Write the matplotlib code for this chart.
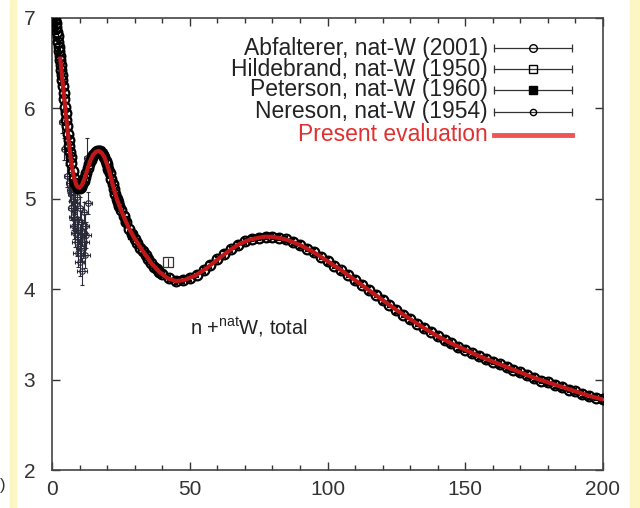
import matplotlib.pyplot as plt
from matplotlib.patches import Rectangle
from matplotlib.lines import Line2D

plt.rcParams['font.family'] = ['Liberation Sans', 'DejaVu Sans']
plt.rcParams['mathtext.fontset'] = 'custom'
plt.rcParams['mathtext.rm'] = 'Liberation Sans'

# --- Present evaluation (E in MeV, sigma in b) ---
eval_e = [3, 4, 5, 6, 7, 8, 9, 10, 11, 12, 13, 14, 15, 16, 17, 18, 19, 20, 21, 22,
          23.5, 25, 26.5, 28, 30, 33, 36, 39, 42, 45, 48, 52, 56, 61, 65, 68, 72, 77,
          80, 85, 90, 95, 100, 105, 110, 115, 120, 125, 130, 135, 140, 145, 150, 155,
          160, 165, 170, 175, 180, 185, 190, 195, 200]
eval_s = [6.55, 6.25, 5.95, 5.65, 5.40, 5.23, 5.14, 5.12, 5.16, 5.24, 5.34, 5.43, 5.49,
          5.52, 5.53, 5.51, 5.46, 5.38, 5.28, 5.16, 5.00, 4.88, 4.77, 4.67, 4.56, 4.42,
          4.29, 4.19, 4.12, 4.09, 4.10, 4.15, 4.23, 4.35, 4.44, 4.50, 4.55, 4.58, 4.58,
          4.55, 4.49, 4.41, 4.31, 4.21, 4.10, 3.99, 3.88, 3.77, 3.67, 3.57, 3.48, 3.40,
          3.33, 3.26, 3.20, 3.14, 3.08, 3.02, 2.97, 2.92, 2.87, 2.82, 2.78]

# --- Abfalterer, nat-W (2001) ---
abf_e = [1.0, 1.2, 1.4, 1.6, 1.8, 2.0, 2.2, 2.4, 2.6, 2.8, 3.0, 3.2, 3.4, 3.6, 3.8,
         4.0, 4.25, 4.5, 4.75, 5.0, 5.25, 5.5, 5.75, 6.0, 6.25, 6.5, 6.75, 7.0, 7.5,
         8.0, 8.5, 9.0, 9.5, 10.0, 10.5, 11.0, 11.5, 12.0, 12.5, 13.0, 13.5, 14.0,
         14.5, 15, 15.5, 16, 16.5, 17, 17.5, 18, 18.5, 19, 19.5, 20, 20.5, 21, 21.5,
         22, 22.5, 23, 23.5, 24, 24.5, 25, 26, 27, 28, 29, 30, 31, 32, 33, 34, 35, 36,
         37, 38, 39, 40, 42.5, 45, 47.5, 50, 52.5,
         55, 57.5, 60, 62.5, 65, 67.5, 70, 72.5, 75, 77.5, 80, 82.5, 85, 87.5, 90, 92.5,
         95, 97.5, 100, 102.5, 105, 107.5, 110, 112.5, 115, 117.5, 120, 122.5, 125,
         127.5, 130, 132.5, 135, 137.5, 140, 142.5, 145, 147.5, 150, 152.5, 155, 157.5,
         160, 162.5, 165, 167.5, 170, 172.5, 175, 177.5, 180, 182.5, 185, 187.5, 190,
         192.5, 195, 197.5, 200]
abf_s = [7.02, 6.98, 6.94, 6.90, 6.85, 6.80, 6.74, 6.68, 6.63, 6.58, 6.53, 6.48, 6.42,
         6.37, 6.31, 6.25, 6.17, 6.10, 6.02, 5.95, 5.87, 5.80, 5.72, 5.65, 5.58, 5.52,
         5.46, 5.40, 5.31, 5.23, 5.18, 5.14, 5.12, 5.12, 5.13, 5.16, 5.20, 5.24, 5.29,
         5.34, 5.39, 5.43, 5.46, 5.49, 5.51, 5.52, 5.53, 5.53, 5.53, 5.51, 5.49, 5.46,
         5.42, 5.38, 5.33, 5.28, 5.22, 5.16, 5.11, 5.05, 5.00, 4.96, 4.92, 4.88, 4.81,
         4.74, 4.67, 4.61, 4.56, 4.51, 4.46, 4.42, 4.38, 4.33, 4.29, 4.25, 4.22, 4.19,
         4.17, 4.12, 4.09, 4.10, 4.12, 4.16, 4.21, 4.27, 4.33, 4.39, 4.44, 4.49, 4.53,
         4.56, 4.57, 4.58, 4.58, 4.57, 4.55, 4.52, 4.49, 4.45, 4.41, 4.36, 4.31, 4.26,
         4.21, 4.16, 4.10, 4.05, 3.99, 3.94, 3.88, 3.83, 3.77, 3.72, 3.67, 3.62, 3.57,
         3.53, 3.48, 3.44, 3.40, 3.36, 3.33, 3.29, 3.26, 3.23, 3.20, 3.17, 3.14, 3.11,
         3.08, 3.05, 3.02, 2.99, 2.97, 2.94, 2.92, 2.89, 2.87, 2.84, 2.82, 2.80, 2.78]

# --- Hildebrand, nat-W (1950) ---
hil_e = [42]
hil_s = [4.30]
hil_ds = [0.05]

# --- Peterson, nat-W (1960) ---
pet_e = [17.5, 20.5, 23.5, 26.5, 29.0]
pet_s = [5.53, 5.33, 5.00, 4.77, 4.60]

# --- Nereson, nat-W (1954) ---
ner_e = [3.5, 4.5, 5.5, 6.0, 6.5, 7.0, 7.0, 7.5, 7.5, 8.0, 8.0, 8.5, 8.5, 9.0, 9.0, 9.0,
         9.5, 9.5, 10.0, 10.0, 10.0, 10.5, 10.5, 11.0, 11.0, 11.5, 11.5, 12.0, 12.0,
         12.5, 13.0, 12.6]
ner_s = [5.85, 5.55, 5.25, 5.18, 5.10, 5.05, 4.90, 4.98, 4.80, 4.88, 4.70, 4.95, 4.62,
         5.02, 4.78, 4.52, 4.66, 4.40, 4.90, 4.58, 4.30, 4.74, 4.46, 4.62, 4.20, 4.85,
         4.52, 4.70, 4.38, 4.60, 4.95, 5.45]
ner_ds = [0.12, 0.12, 0.12, 0.12, 0.12, 0.12, 0.14, 0.12, 0.14, 0.12, 0.14, 0.12, 0.15,
          0.12, 0.14, 0.15, 0.14, 0.15, 0.12, 0.14, 0.15, 0.13, 0.15, 0.14, 0.15, 0.12,
          0.15, 0.13, 0.15, 0.14, 0.12, 0.22]
ner_de = [0.8, 0.9, 1.0, 1.0, 1.1, 1.1, 1.3, 1.2, 1.4, 1.2, 1.5, 1.3, 1.5, 1.3, 1.6, 1.6,
          1.4, 1.7, 1.4, 1.6, 1.7, 1.5, 1.7, 1.6, 1.8, 1.5, 1.8, 1.6, 1.8, 1.6, 1.4, 1.0]

fig = plt.figure(figsize=(6.4, 5.08), dpi=100)
fig.patches.append(Rectangle((10 / 640, 0), 6 / 640, 1, transform=fig.transFigure,
                             color='#fcf7c2', zorder=0))
fig.patches.append(Rectangle((630 / 640, 0), 10 / 640, 1, transform=fig.transFigure,
                             color='#fcf7c2', zorder=0))
fig.text(0.0, 0.035, ')', fontsize=12, color='#333333', ha='left')

ax = fig.add_axes([52 / 640, 38 / 508, 551 / 640, 452 / 508])

ax.errorbar(ner_e, ner_s, yerr=ner_ds, xerr=ner_de, fmt='o', ms=4, mfc='none',
            mec='#2a2a38', color='#2a2a38', elinewidth=0.8, capsize=1.5, mew=0.8,
            zorder=2)
ax.errorbar(abf_e, abf_s, yerr=0.03, fmt='o', ms=7, mfc='none', mec='black',
            color='black', elinewidth=0.8, capsize=1.5, mew=1.6, zorder=3)
ax.errorbar(pet_e, pet_s, fmt='s', ms=5.5, color='black', zorder=3)
ax.errorbar(hil_e, hil_s, yerr=hil_ds, fmt='s', ms=6.5, mfc='none', mec='#333333',
            color='#333333', mew=0.9, elinewidth=0.8, zorder=3)
ax.plot(eval_e, eval_s, color='#c01818', lw=3, zorder=4)

ax.text(50, 3.58, r'n +$^{\mathrm{nat}}$W, total', fontsize=14.5, color='#222222',
        va='center', ha='left')

ax.set_xlim(0, 200)
ax.set_ylim(2, 7)
ax.set_xticks([0, 50, 100, 150, 200])
ax.set_xticks(range(0, 201, 10), minor=True)
ax.set_yticks([2, 3, 4, 5, 6, 7])
ax.tick_params(which='both', direction='in', top=True, right=True, colors='#333333',
               labelsize=15, width=1.0)
ax.tick_params(which='major', length=6)
ax.tick_params(which='minor', length=3.5)
ax.tick_params(axis='y', pad=12)
ax.tick_params(axis='x', pad=7)
for sp in ax.spines.values():
    sp.set_linewidth(1.2)
    sp.set_color('#444444')

# --- gnuplot-style key: label on the left, sample on the right ---
labels = ['Abfalterer, nat-W (2001)', 'Hildebrand, nat-W (1950)',
          'Peterson, nat-W (1960)', 'Nereson, nat-W (1954)', 'Present evaluation']
markers = ['o', 's', 's', 'o', None]
sizes = [5.5, 5.5, 6, 4.5, 0]
fills = ['none', 'none', 'black', 'none', 'none']
rows = [0.933, 0.887, 0.841, 0.793, 0.742]
for lab, mk, sz, fc, yr in zip(labels, markers, sizes, fills, rows):
    red = mk is None
    ax.text(0.791, yr, lab, transform=ax.transAxes, ha='right', va='center',
            fontsize=16.5, color='#e03030' if red else '#222222')
    if red:
        ax.add_line(Line2D([0.803, 0.944], [yr, yr], transform=ax.transAxes,
                           color='#ee5555', lw=3.5))
    else:
        ax.add_line(Line2D([0.803, 0.944], [yr, yr], transform=ax.transAxes,
                           color='#333333', lw=0.9))
        ax.add_line(Line2D([0.803, 0.944], [yr, yr], transform=ax.transAxes, ls='none',
                           marker='|', ms=6, mew=0.9, color='#333333'))
        ax.add_line(Line2D([0.873], [yr], transform=ax.transAxes, ls='none', marker=mk,
                           ms=sz, mfc=fc, mec='black', mew=1.0))

fig.savefig('out.png', dpi=100)
